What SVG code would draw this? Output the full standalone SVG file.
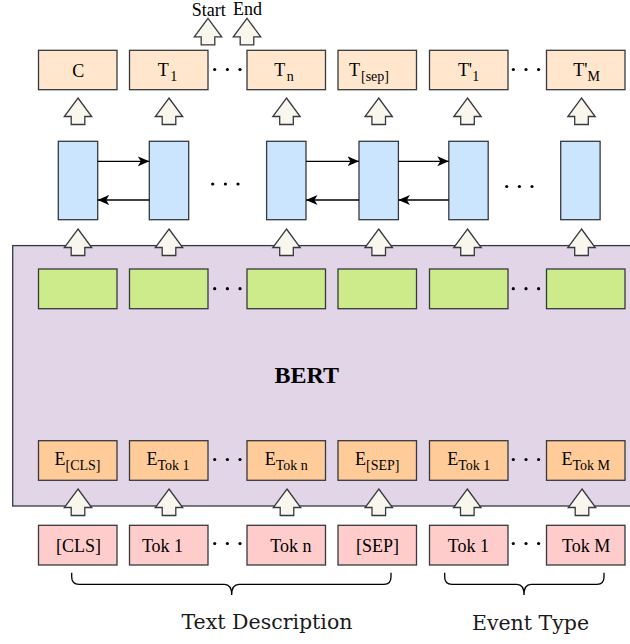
<svg xmlns="http://www.w3.org/2000/svg" xmlns:xlink="http://www.w3.org/1999/xlink" width="630" height="644" viewBox="0 0 630 644">
<style>
  .box{stroke:#36393d;stroke-width:1.3}
  .out{fill:#ffe6cc}
  .lstm{fill:#cce5ff}
  .hid{fill:#cdeb8b}
  .emb{fill:#ffcc99}
  .tok{fill:#ffcccc}
  text{font-family:'Liberation Serif','Times New Roman',Times,Tinos,'DejaVu Serif',serif}
  .t{font-size:18px;fill:#000;text-anchor:middle}
  .sub{font-size:14px}
  .lbl{font-family:'DejaVu Serif','Noto Serif',serif;font-size:20.5px;fill:#1a1a1a;text-anchor:middle}
  .up{fill:#f9f7ed;stroke:#36393d;stroke-width:1.3;stroke-linejoin:miter}
  .line{stroke:#000;stroke-width:1.3;fill:none}
  .dot{fill:#000}
</style>
<defs>
  <path id="uparrow" class="up" d="M0,0 L13.7,18.5 L6.8,18.5 L6.8,26.5 L-6.8,26.5 L-6.8,18.5 L-13.7,18.5 Z"/>
  <marker id="arr" markerUnits="userSpaceOnUse" markerWidth="13" markerHeight="11" refX="11.5" refY="5" orient="auto">
    <path d="M0,0 L11.5,5 L0,10 L3,5 Z" fill="#000"/>
  </marker>
  <g id="dots3"><circle cx="0" cy="0" r="1.6"/><circle cx="12.7" cy="0" r="1.6"/><circle cx="25.3" cy="0" r="1.6"/></g>
</defs>
<rect width="630" height="644" fill="#fff"/>

<g id="bert">
  <rect class="box" x="12.7" y="245.6" width="630" height="260.4" fill="#e1d5e7"/>
  <text x="306.7" y="383.3" font-size="24" font-weight="bold" text-anchor="middle">BERT</text>
</g>

<g id="output-row">
  <g id="out-c"><rect class="box out" x="38.5" y="50.3" width="78.5" height="39.4"/><text class="t" x="78.3" y="77">C</text></g>
  <g id="out-t1"><rect class="box out" x="129.5" y="50.3" width="78.5" height="39.4"/><text class="t" x="167.5" y="75.5">T<tspan class="sub" dx="1.5" dy="5">1</tspan></text></g>
  <g id="out-tn"><rect class="box out" x="247" y="50.3" width="78.5" height="39.4"/><text class="t" x="284" y="75.5">T<tspan class="sub" dx="1.5" dy="5">n</tspan></text></g>
  <g id="out-tsep"><rect class="box out" x="338" y="50.3" width="78.5" height="39.4"/><text class="t" x="369" y="75.5">T<tspan class="sub" dx="1" dy="5">[sep]</tspan></text></g>
  <g id="out-tp1"><rect class="box out" x="429.5" y="50.3" width="78.5" height="39.4"/><text class="t" x="468.5" y="75.5">T'<tspan class="sub" dy="5">1</tspan></text></g>
  <g id="out-tpm"><rect class="box out" x="546.5" y="50.3" width="78.5" height="39.4"/><text class="t" x="586.5" y="75.5">T'<tspan class="sub" dy="5">M</tspan></text></g>
</g>

<g id="start-end">
  <text class="t" x="208.8" y="15.5" font-size="19">Start</text>
  <text class="t" x="247.5" y="15" font-size="19">End</text>
</g>

<g id="lstm-row">
  <rect id="lstm1" class="box lstm" x="58.3" y="141.3" width="39.4" height="78.4"/>
  <rect id="lstm2" class="box lstm" x="149.3" y="141.3" width="39.4" height="78.4"/>
  <rect id="lstm3" class="box lstm" x="266.6" y="141.3" width="39.4" height="78.4"/>
  <rect id="lstm4" class="box lstm" x="359" y="141.3" width="39.4" height="78.4"/>
  <rect id="lstm5" class="box lstm" x="448.8" y="141.3" width="39.4" height="78.4"/>
  <rect id="lstm6" class="box lstm" x="560.7" y="141.3" width="39.4" height="78.4"/>
</g>

<g id="hidden-row">
  <rect id="h1" class="box hid" x="38.5" y="269" width="78.5" height="39.7"/>
  <rect id="h2" class="box hid" x="129.5" y="269" width="78.5" height="39.7"/>
  <rect id="h3" class="box hid" x="247" y="269" width="78.5" height="39.7"/>
  <rect id="h4" class="box hid" x="338" y="269" width="78.5" height="39.7"/>
  <rect id="h5" class="box hid" x="429.5" y="269" width="78.5" height="39.7"/>
  <rect id="h6" class="box hid" x="546.5" y="269" width="78.5" height="39.7"/>
</g>

<g id="embedding-row">
  <g id="e-cls"><rect class="box emb" x="38.5" y="440.7" width="78.5" height="39.6"/><text class="t" x="77.5" y="465">E<tspan class="sub" dy="4.5">[CLS]</tspan></text></g>
  <g id="e-tok1"><rect class="box emb" x="129.5" y="440.7" width="78.5" height="39.6"/><text class="t" x="168" y="465">E<tspan class="sub" dy="4.5">Tok 1</tspan></text></g>
  <g id="e-tokn"><rect class="box emb" x="247" y="440.7" width="78.5" height="39.6"/><text class="t" x="286.2" y="465">E<tspan class="sub" dy="4.5">Tok n</tspan></text></g>
  <g id="e-sep"><rect class="box emb" x="338" y="440.7" width="78.5" height="39.6"/><text class="t" x="377.25" y="465">E<tspan class="sub" dy="4.5">[SEP]</tspan></text></g>
  <g id="e-evt1"><rect class="box emb" x="429.5" y="440.7" width="78.5" height="39.6"/><text class="t" x="468.75" y="465">E<tspan class="sub" dy="4.5">Tok 1</tspan></text></g>
  <g id="e-evtm"><rect class="box emb" x="546.5" y="440.7" width="78.5" height="39.6"/><text class="t" x="585.75" y="465">E<tspan class="sub" dy="4.5">Tok M</tspan></text></g>
</g>

<g id="token-row">
  <g id="tok-cls"><rect class="box tok" x="38.5" y="525.3" width="78.5" height="39.7"/><text class="t" x="78.5" y="552">[CLS]</text></g>
  <g id="tok-1"><rect class="box tok" x="129.5" y="525.3" width="78.5" height="39.7"/><text class="t" x="162.5" y="552">Tok 1</text></g>
  <g id="tok-n"><rect class="box tok" x="247" y="525.3" width="78.5" height="39.7"/><text class="t" x="290.8" y="552">Tok n</text></g>
  <g id="tok-sep"><rect class="box tok" x="338" y="525.3" width="78.5" height="39.7"/><text class="t" x="377.5" y="552">[SEP]</text></g>
  <g id="tok-e1"><rect class="box tok" x="429.5" y="525.3" width="78.5" height="39.7"/><text class="t" x="468.3" y="552">Tok 1</text></g>
  <g id="tok-em"><rect class="box tok" x="546.5" y="525.3" width="78.5" height="39.7"/><text class="t" x="586.2" y="552">Tok M</text></g>
</g>

<g id="ellipses" class="dot">
  <use xlink:href="#dots3" x="214.7" y="69.5"/>
  <use xlink:href="#dots3" x="513.3" y="69.5"/>
  <use xlink:href="#dots3" x="212.7" y="184"/>
  <use xlink:href="#dots3" x="506.7" y="186.5"/>
  <use xlink:href="#dots3" x="214.7" y="288.7"/>
  <use xlink:href="#dots3" x="513.3" y="288.7"/>
  <use xlink:href="#dots3" x="214.7" y="459.5"/>
  <use xlink:href="#dots3" x="513.3" y="459.5"/>
  <use xlink:href="#dots3" x="214.7" y="543.5"/>
  <use xlink:href="#dots3" x="513.3" y="543.5"/>
</g>

<g id="connectors">
  <line class="line" x1="97.7" y1="161.3" x2="149.3" y2="161.3" marker-end="url(#arr)"/>
  <line class="line" x1="149.3" y1="200" x2="97.7" y2="200" marker-end="url(#arr)"/>
  <line class="line" x1="306" y1="161.3" x2="359" y2="161.3" marker-end="url(#arr)"/>
  <line class="line" x1="359" y1="200" x2="306" y2="200" marker-end="url(#arr)"/>
  <line class="line" x1="398.4" y1="161.3" x2="448.8" y2="161.3" marker-end="url(#arr)"/>
  <line class="line" x1="448.8" y1="200" x2="398.4" y2="200" marker-end="url(#arr)"/>

  <use xlink:href="#uparrow" x="208" y="18.3"/>
  <use xlink:href="#uparrow" x="247" y="18.3"/>

  <use xlink:href="#uparrow" x="78" y="98"/>
  <use xlink:href="#uparrow" x="169" y="98"/>
  <use xlink:href="#uparrow" x="286.5" y="98"/>
  <use xlink:href="#uparrow" x="378.7" y="98"/>
  <use xlink:href="#uparrow" x="467.5" y="98"/>
  <use xlink:href="#uparrow" x="581.5" y="98"/>

  <use xlink:href="#uparrow" x="78" y="229"/>
  <use xlink:href="#uparrow" x="169" y="229"/>
  <use xlink:href="#uparrow" x="286.5" y="229"/>
  <use xlink:href="#uparrow" x="378.7" y="229"/>
  <use xlink:href="#uparrow" x="467.5" y="229"/>
  <use xlink:href="#uparrow" x="581.5" y="229"/>

  <use xlink:href="#uparrow" x="78" y="489"/>
  <use xlink:href="#uparrow" x="169" y="489"/>
  <use xlink:href="#uparrow" x="287" y="489"/>
  <use xlink:href="#uparrow" x="378.8" y="489"/>
  <use xlink:href="#uparrow" x="467.3" y="489"/>
  <use xlink:href="#uparrow" x="582" y="489"/>
</g>

<g id="text-description">
  <path class="line" d="M71.7,572.7 L71.7,577 Q71.7,584.3 79,584.3 L224.5,584.3 Q231.7,584.3 231.7,595 Q231.7,584.3 239,584.3 L384,584.3 Q391,584.3 391,577 L391,572.7"/>
  <text class="lbl" x="267" y="629.3">Text Description</text>
</g>
<g id="event-type">
  <path class="line" d="M444.7,572.7 L444.7,577 Q444.7,584.3 452,584.3 L517,584.3 Q524,584.3 524,595 Q524,584.3 531,584.3 L597,584.3 Q604,584.3 604,577 L604,572.7"/>
  <text class="lbl" x="530.5" y="630">Event Type</text>
</g>
</svg>
